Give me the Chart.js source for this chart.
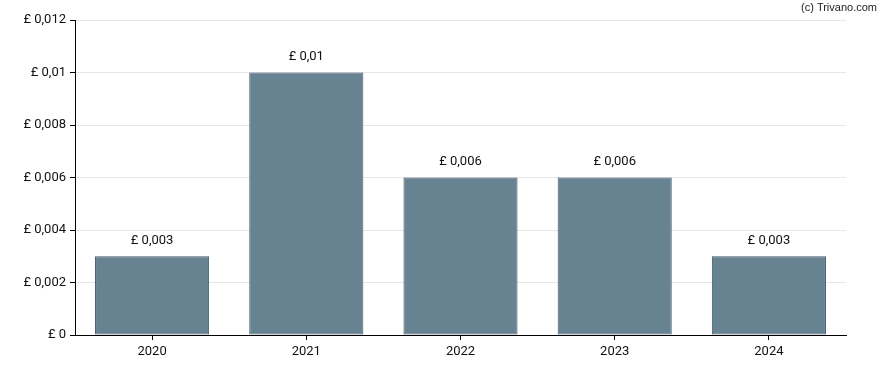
<!DOCTYPE html>
<html>
<head>
<meta charset="utf-8">
<script src="https://cdn.jsdelivr.net/npm/chart.js@4"></script>
<style>
  html, body { margin: 0; padding: 0; background: #fff; }
  #wrap { width: 888px; height: 370px; position: relative; }
</style>
</head>
<body>
<div id="wrap"><canvas id="myChart" width="888" height="370"></canvas></div>
<script>
// data
const years = ['2020', '2021', '2022', '2023', '2024'];
const dividend = [0.003, 0.01, 0.006, 0.006, 0.003];
const yTicks = ['£ 0', '£ 0,002', '£ 0,004', '£ 0,006', '£ 0,008', '£ 0,01', '£ 0,012'];

const fmt = v => '£ ' + String(+v.toFixed(3)).replace('.', ',');

// labels above bars + watermark
const barLabels = {
    id: 'barLabels',
    afterDatasetsDraw(chart) {
        const c = chart.ctx;
        c.save();
        c.font = '13px Roboto';
        c.fillStyle = '#111';
        c.textAlign = 'center';
        c.textBaseline = 'middle';
        chart.getDatasetMeta(0).data.forEach((bar, i) => {
            c.fillText(fmt(dividend[i]), bar.x, bar.y - 16);
        });
        c.font = '11px "Liberation Sans", Arial';
        c.textAlign = 'right';
        c.fillStyle = '#222';
        c.fillText('(c) Trivano.com', 877, 8);
        c.restore();
    }
};

const ctx = document.getElementById('myChart');

new Chart(ctx, {
    type: 'bar',
    data: {
        labels: years,
        datasets: [{
            data: dividend,
            backgroundColor: 'rgb(103,130,145)',
            borderColor: 'rgb(62,86,106)',
            borderWidth: 1,
            borderSkipped: false,
            categoryPercentage: 0.74,
            barPercentage: 1
        }]
    },
    options: {
        responsive: false,
        animation: false,
        layout: { padding: { top: 20, right: 42, left: 0, bottom: 0 } },
        plugins: {
            legend: { display: false },
            tooltip: { enabled: false }
        },
        scales: {
            x: {
                grid: { display: true, drawOnChartArea: false, offset: false, tickColor: '#000', tickLength: 5 },
                border: { color: '#000', width: 1 },
                ticks: { color: '#111', font: { family: 'Roboto', size: 13 }, padding: 4 },
                afterFit: s => { s.height = 35; }
            },
            y: {
                min: 0,
                max: 0.012,
                grid: { color: '#e6e6e6', tickColor: '#000', tickLength: 5 },
                border: { color: '#000', width: 1 },
                ticks: {
                    stepSize: 0.002,
                    color: '#111',
                    font: { family: 'Roboto', size: 13 },
                    padding: 4,
                    callback: (v, i) => yTicks[i]
                },
                afterFit: s => { s.width = 75; }
            }
        }
    },
    plugins: [barLabels]
});
</script>
</body>
</html>
